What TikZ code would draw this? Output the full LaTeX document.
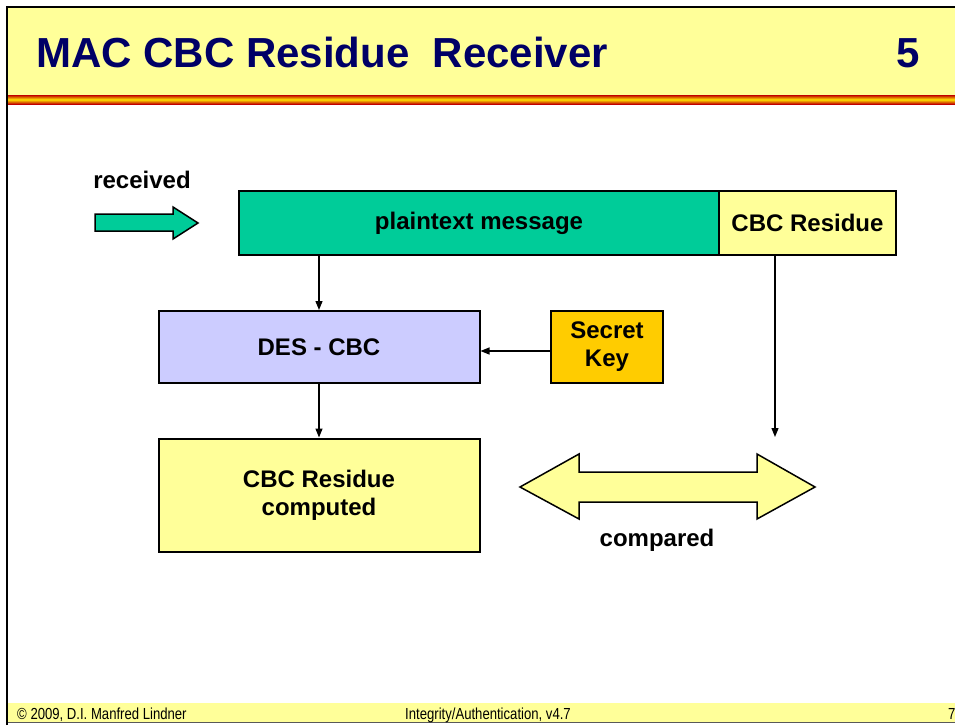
\documentclass[tikz,border=0pt]{standalone}
\usepackage{fontspec}
\setmainfont{Liberation Sans}
\newfontfamily\narrowfont[FakeStretch=0.82]{Liberation Sans}
\usetikzlibrary{arrows.meta}

\definecolor{paleyellow}{HTML}{FFFF99}
\definecolor{titlenavy}{HTML}{000066}
\definecolor{msggreen}{HTML}{00CC99}
\definecolor{deslilac}{HTML}{CCCCFF}
\definecolor{keygold}{HTML}{FFCC00}
\definecolor{stripered}{HTML}{C00000}
\definecolor{stripeyellow}{HTML}{FFE600}

\tikzset{
  block/.style={draw=black, line width=2pt, inner sep=0pt, align=center,
                font=\fontsize{24}{28}\selectfont\bfseries},
  flow/.style={draw=black, line width=1.3pt, -{Triangle[length=9pt,width=7pt]}},
  bigarrow/.style={draw=black, line width=1.5pt, line join=miter},
  label/.style={inner sep=0pt, font=\fontsize{24}{28}\selectfont\bfseries},
  foot/.style={inner sep=0pt, anchor=base west, font=\fontsize{16}{18}\selectfont\narrowfont}
}

\begin{document}
\begin{tikzpicture}[x=1pt, y=-1pt]
\useasboundingbox (0,0) rectangle (955,725);
\clip (0,0) rectangle (955,725);

% slide frame, title band and footer band
\fill[paleyellow] (8,8) rectangle (960,95);
\shade[top color=stripered, bottom color=stripered, middle color=stripeyellow]
  (8,95) rectangle (960,104);
\fill[paleyellow] (8,703) rectangle (960,722);
\draw[gray!70!black, line width=1pt] (8,722.5) -- (960,722.5);
\draw[black, line width=2pt] (7,725) -- (7,7) -- (960,7);

\node[anchor=base west, inner sep=0pt, text=titlenavy,
      font=\fontsize{42}{46}\selectfont\bfseries] (title) at (36,67)
  {MAC CBC Residue \ Receiver};
\node[anchor=base east, inner sep=0pt, text=titlenavy,
      font=\fontsize{42}{46}\selectfont\bfseries] (slideno) at (920,67) {5};

\node[foot] (copy) at (17,719) {\textcopyright{} 2009, D.I. Manfred Lindner};
\node[foot] (course) at (405,719) {Integrity/Authentication, v4.7};
\node[foot] (pageno) at (948,719) {7};

% message blocks
\node[block, fill=msggreen, minimum width=480pt, minimum height=64pt]
  (plain) at (479,223) {plaintext message};
\node[block, fill=paleyellow, minimum width=177pt, minimum height=64pt]
  (res) at (807.5,223) {CBC Residue};

% processing blocks
\node[block, fill=deslilac, minimum width=321pt, minimum height=72pt]
  (des) at (319,347) {DES - CBC};
\node[block, fill=keygold, minimum width=112pt, minimum height=72pt]
  (key) at (607,347) {Secret\\Key};
\node[block, fill=paleyellow, minimum width=321pt, minimum height=113pt]
  (calc) at (319,495) {CBC Residue\\computed};

% labels
\node[label] (recv) at (142,180) {received};
\node[label] (cmp) at (657,540) {compared};

% incoming block arrow
\path[bigarrow, fill=msggreen]
  (95,214) -- (173,214) -- (173,207) -- (198,223) -- (173,239) -- (173,231)
  -- (95,231) -- cycle;

% comparison double arrow
\path[bigarrow, fill=paleyellow]
  (520,487) -- (579,454) -- (579,472) -- (757,472) -- (757,454) -- (815,487)
  -- (757,519) -- (757,502) -- (579,502) -- (579,519) -- cycle;

% connectors
\coordinate (cmpend) at (775,437);
\draw[flow] (des.north |- plain.south) -- (des.north);
\draw[flow] ([yshift=-4pt]key.west) -- ([yshift=-4pt]des.east);
\draw[flow] (des.south) -- (calc.north);
\draw[flow] (cmpend |- res.south) -- (cmpend);
\end{tikzpicture}
\end{document}
